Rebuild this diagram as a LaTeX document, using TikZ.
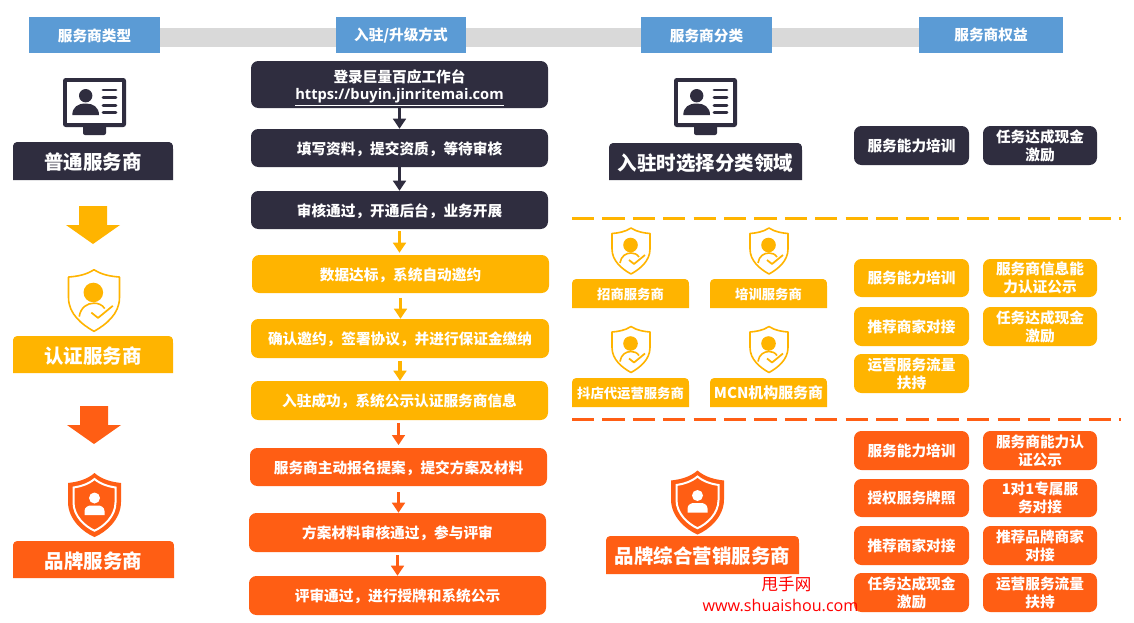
\documentclass[tikz,border=0pt]{standalone}
\usepackage{fontspec}
\setmainfont{Noto Sans CJK SC}
\newfontfamily\latinbold{Open Sans}
\newfontfamily\wmlatin{Open Sans}
\usetikzlibrary{arrows.meta}
\definecolor{dk}{HTML}{2F2D3F}
\definecolor{gd}{HTML}{FFB400}
\definecolor{og}{HTML}{FF5E14}
\definecolor{bl}{HTML}{5B9BD5}
\definecolor{gy}{HTML}{D9D9D9}
\tikzset{
  txt/.style={text=white,font=\bfseries\fontsize{11}{13.5}\selectfont,align=center,inner sep=0pt},
  headbox/.style={fill=bl,inner sep=0pt},
  flowbox/.style={fill=#1,rounded corners=5.5pt,inner sep=0pt},
  perk/.style={fill=#1,rounded corners=5.5pt,inner sep=0pt},
  tabbig/.style={text=white,font=\bfseries\fontsize{14.6}{17}\selectfont,inner sep=0pt,yshift=-1.1pt},
  tabsmall/.style={text=white,font=\bfseries\fontsize{10}{12}\selectfont,inner sep=0pt,yshift=-0.4pt},
  link/.style={draw=#1,line width=2.4pt,-{Triangle[length=7.5pt,width=9.5pt]}},
  divider/.style={draw=#1,line width=2.2pt,dash pattern=on 16.6pt off 6.2pt},
  bigarrow/.style={fill=#1},
  pics/idmon/.style={code={
    \fill[dk,rounded corners=1.5pt] (20,47) rectangle (43,57);
    \fill[dk,rounded corners=2pt] (0,0) rectangle (63,49);
    \fill[white] (4,4) rectangle (59,45);
    \fill[dk] (22.7,17.7) circle (6.7);
    \fill[dk] (9.3,37) .. controls (9.3,29) and (15,25.5) .. (22.7,25.5) .. controls (30,25.5) and (36,29) .. (36,37) -- cycle;
    \foreach \yy in {12,19.7,27.7,34.7}
      \draw[dk,line width=2.2pt,line cap=round] (40,\yy) -- (53,\yy);
  }},
  pics/shieldout/.style={code={
    \draw[#1,line width=1.2pt,line join=round] (0,-23) .. controls (-6,-19) and (-13,-18) .. (-19,-17.5) -- (-19,-2) .. controls (-19,10) and (-9,18) .. (0,23) .. controls (9,18) and (19,10) .. (19,-2) -- (19,-17.5) .. controls (13,-18) and (6,-19) .. (0,-23) -- cycle;
    \fill[#1] (-0.5,-6) circle (7.3);
    \draw[#1,line width=1.2pt] (-11,12) .. controls (-10,5) and (-5,2) .. (0,2) .. controls (3,2) and (6,3) .. (8,6);
    \draw[#1,line width=1.3pt,line join=round] (-2,9) -- (3,13) -- (14,4);
  }},
  pics/shieldfull/.style={code={
    \fill[og] (0,-32) .. controls (-8,-25) and (-18,-23) .. (-26.5,-22) -- (-26.5,-3) .. controls (-26.5,14) and (-12,27) .. (0,32) .. controls (12,27) and (26.5,14) .. (26.5,-3) -- (26.5,-22) .. controls (18,-23) and (8,-25) .. (0,-32) -- cycle;
    \draw[white,line width=1.5pt] (0,-26) .. controls (-6.5,-20.5) and (-14.5,-18.5) .. (-21,-17.5) -- (-21,-2.5) .. controls (-21,11) and (-9.5,21.5) .. (0,25.7) .. controls (9.5,21.5) and (21,11) .. (21,-2.5) -- (21,-17.5) .. controls (14.5,-18.5) and (6.5,-20.5) .. (0,-26) -- cycle;
    \fill[white] (0,-7) circle (5.5);
    \fill[white] (-10,10) -- (-10,6) .. controls (-10,2) and (-6,0.5) .. (-4,0.5) -- (4,0.5) .. controls (6,0.5) and (10,2) .. (10,6) -- (10,10) -- cycle;
  }},
}
% [text shift], name, style, x1, y1, x2, y2, text
\newcommand{\bx}[8][-0.7pt]{\node[#3,minimum width={(#6-#4)*0.75pt},minimum height={(#7-#5)*0.75pt}] (#2) at ({(#4+#6)/2},{(#5+#7)/2}) {};
  \node[txt,yshift=#1] (#2t) at (#2) {#8};}
\newcommand{\pk}{\bx[-0.1pt]}
% name, colour, text style, x1, y1, x2, y2, text
\newcommand{\tb}[8]{\fill[#2] (#4,#7) -- (#4,#5+7) .. controls (#4,#5+1) and (#4+1,#5) .. (#4+7,#5) -- (#6-7,#5) .. controls (#6-1,#5) and (#6,#5+1) .. (#6,#5+7) -- (#6,#7) -- cycle;
  \node[#3] (#1) at ({(#4+#6)/2},{(#5+#7)/2}) {#8};}
\begin{document}
\begin{tikzpicture}[x=0.75pt,y=-0.75pt]
\useasboundingbox (0,0) rectangle (1134,622);
\fill[white] (0,0) rectangle (1134,622);
% header bar
\fill[gy] (160,28) rectangle (919,47);
\bx[-0.3pt]{h1}{headbox}{29}{17}{160}{53}{服务商类型}
\bx[-0.3pt]{h2}{headbox}{336}{17}{466}{53}{入驻/升级方式}
\bx[-0.3pt]{h3}{headbox}{641}{17}{772}{53}{服务商分类}
\bx[-0.3pt]{h4}{headbox}{919}{17}{1063}{53}{服务商权益}
% left column
\pic at (63,78) {idmon};
\tb{t1}{dk}{tabbig}{13}{142}{173}{180}{普通服务商}
\fill[bigarrow=gd] (79,206) -- (107,206) -- (107,225) -- (120,225) -- (93,244) -- (66,225) -- (79,225) -- cycle;
\pic[scale=1.34] at (94,300.5) {shieldout=gd};
\tb{t2}{gd}{tabbig}{13}{336}{173}{373}{认证服务商}
\fill[bigarrow=og] (80,406) -- (108,406) -- (108,425) -- (121,425) -- (94,444) -- (67,425) -- (80,425) -- cycle;
\pic at (94.5,505) {shieldfull};
\tb{t3}{og}{tabbig}{13}{541}{174}{578}{品牌服务商}
% flow
\bx[-2.6pt]{f1}{flowbox=dk}{251}{61}{548}{108}{登录巨量百应工作台\\[-0.7pt]{\latinbold\bfseries\underline{https://buyin.jinritemai.com}}}
\bx{f2}{flowbox=dk}{251}{129}{548}{167}{填写资料，提交资质，等待审核}
\bx{f3}{flowbox=dk}{251}{191}{548}{229}{审核通过，开通后台，业务开展}
\bx{f4}{flowbox=gd}{252}{255}{549}{293}{数据达标，系统自动邀约}
\bx{f5}{flowbox=gd}{251}{319}{549}{358}{确认邀约，签署协议，并进行保证金缴纳}
\bx{f6}{flowbox=gd}{251}{381}{548}{420}{入驻成功，系统公示认证服务商信息}
\bx{f7}{flowbox=og}{250}{448}{547}{486}{服务商主动报名提案，提交方案及材料}
\bx{f8}{flowbox=og}{249}{513}{546}{552}{方案材料审核通过，参与评审}
\bx{f9}{flowbox=og}{249}{576}{546}{615}{评审通过，进行授牌和系统公示}
\draw[link=dk] (f1.south) -- (f1.south |- f2.north);
\draw[link=dk] (f2.south) -- (f2.south |- f3.north);
\draw[link=gd,shorten <=1.5pt,shorten >=1.5pt] (f3.south) -- (f3.south |- f4.north);
\draw[link=gd,shorten <=3.5pt] (f4.south) -- (f4.south |- f5.north);
\draw[link=gd,shorten <=2pt] (f5.south) -- (f5.south |- f6.north);
\draw[link=og,shorten <=2pt,shorten >=2pt] (f7.north |- f6.south) -- (f7.north);
\draw[link=og,shorten <=4.5pt] (f7.south) -- (f7.south |- f8.north);
\draw[link=og,shorten <=2pt] (f8.south) -- (f8.south |- f9.north);
% classification column
\pic at (674,78) {idmon};
\tb{c1}{dk}{tabbig}{609}{143}{802}{180}{入驻时选择分类领域}
\pic at (631,251) {shieldout=gd};
\pic at (769,251) {shieldout=gd};
\pic at (631,349.5) {shieldout=gd};
\pic at (769,349.5) {shieldout=gd};
\tb{c2}{gd}{tabsmall}{572}{279}{689}{308}{招商服务商}
\tb{c3}{gd}{tabsmall}{710}{279}{827}{308}{培训服务商}
\tb{c4}{gd}{tabsmall}{572}{378}{689}{407}{抖店代运营服务商}
\tb{c5}{gd}{tabsmall}{710}{378}{827}{407}{\fontsize{11.2}{13}\selectfont MCN机构服务商}
\pic at (697.5,502.5) {shieldfull};
\tb{c6}{og}{tabbig}{606}{536}{799}{574}{品牌综合营销服务商}
% dividers
\draw[divider=gd] (572,218.5) -- (1121,218.5);
\draw[divider=og] (572,419.5) -- (1121,419.5);
% perks dark
\pk{p1}{perk=dk}{854}{126}{969}{165}{服务能力培训}
\pk{p2}{perk=dk}{983}{126}{1097}{165}{任务达成现金\\激励}
% perks gold
\pk{p3}{perk=gd}{854}{259}{969}{297}{服务能力培训}
\pk{p4}{perk=gd}{983}{259}{1097}{297}{服务商信息能\\力认证公示}
\pk{p5}{perk=gd}{854}{307}{969}{346}{推荐商家对接}
\pk{p6}{perk=gd}{983}{307}{1097}{346}{任务达成现金\\激励}
\pk{p7}{perk=gd}{854}{354}{969}{393}{运营服务流量\\扶持}
% perks orange
\pk{p8}{perk=og}{854}{431}{969}{470}{服务能力培训}
\pk{p9}{perk=og}{983}{431}{1097}{470}{服务商能力认\\证公示}
\pk{p10}{perk=og}{854}{479}{969}{517}{授权服务牌照}
\pk{p11}{perk=og}{983}{479}{1097}{517}{1对1专属服\\务对接}
\pk{p12}{perk=og}{854}{526}{969}{565}{推荐商家对接}
\pk{p13}{perk=og}{983}{526}{1097}{565}{推荐品牌商家\\对接}
\pk{p14}{perk=og}{854}{573}{969}{612}{任务达成现金\\激励}
\pk{p15}{perk=og}{983}{573}{1097}{612}{运营服务流量\\扶持}
% watermark
\node[text=red,font=\fontsize{12.4}{14}\selectfont,inner sep=0pt] (w1) at (786.5,584) {甩手网};
\node[text=red,font=\wmlatin\fontsize{12.1}{14}\selectfont,inner sep=0pt] (w2) at (780.5,605.5) {www.shuaishou.com};
\end{tikzpicture}
\end{document}
